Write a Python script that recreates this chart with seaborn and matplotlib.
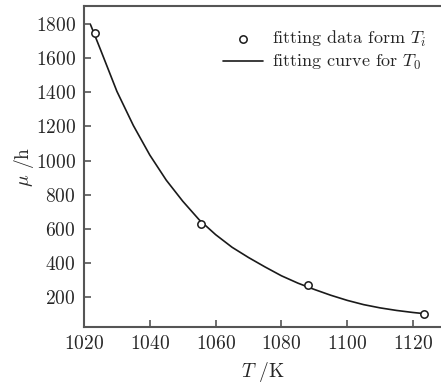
import matplotlib
matplotlib.use("Agg")
import matplotlib.pyplot as plt
import seaborn as sns
import pandas as pd

# measured points
temp_pts = [1023.3, 1055.6, 1088.0, 1123.3]
mu_pts = [1748, 628, 270, 100]

# fitted curve
temp_fit = [1022, 1025, 1030, 1035, 1040, 1045, 1050, 1055, 1060, 1065, 1070,
            1075, 1080, 1085, 1090, 1095, 1100, 1105, 1110, 1115, 1120, 1123]
mu_fit = [1795, 1650, 1405, 1205, 1032, 885, 762, 653, 566, 492, 432,
          377, 325, 282, 245, 211, 181, 156, 137, 122, 110, 104]

xticks = [1020, 1040, 1060, 1080, 1100, 1120]
yticks = [200, 400, 600, 800, 1000, 1200, 1400, 1600, 1800]

sns.set_style("ticks")
plt.rcParams["font.family"] = ["cmr10", "DejaVu Serif"]
plt.rcParams["mathtext.fontset"] = "cm"
plt.rcParams["axes.formatter.use_mathtext"] = True
plt.rcParams["axes.unicode_minus"] = False

pts = pd.DataFrame({"T": temp_pts, "mu": mu_pts})
fit = pd.DataFrame({"T": temp_fit, "mu": mu_fit})

fig = plt.figure(figsize=(4.41, 3.83), dpi=100)
ax = fig.add_axes([0.1905, 0.1462, 0.8095, 0.8381])

sns.lineplot(data=fit, x="T", y="mu", ax=ax, color="#1a1a1a", linewidth=1.2,
             label=r"fitting curve for $T_0$", zorder=2)
sns.scatterplot(data=pts, x="T", y="mu", ax=ax, marker="o", s=28,
                facecolor="white", edgecolor="#1a1a1a", linewidth=1.1,
                label=r"fitting data form $T_i$", zorder=3)

ax.set_xlim(1020, 1128.5)
ax.set_ylim(25, 1905)
ax.set_xticks(xticks)
ax.set_yticks(yticks)
ax.tick_params(direction="in", length=5, width=1.2, color="#555555",
               labelsize=14, pad=6)
for side in ["left", "bottom", "top"]:
    ax.spines[side].set_color("#555555")
    ax.spines[side].set_linewidth(1.5)
ax.spines["right"].set_visible(False)

ax.set_xlabel(r"$T$ /K", fontsize=14, labelpad=5)
ax.set_ylabel(r"$\mu$ /h", fontsize=14, labelpad=0)

handles, labels = ax.get_legend_handles_labels()
ax.legend(handles[::-1], labels[::-1], loc="upper right", frameon=False,
          bbox_to_anchor=(1.0, 0.975), fontsize=13, handlelength=2.2,
          handletextpad=0.5, borderaxespad=0.5, labelspacing=0.25,
          borderpad=0.3)

fig.savefig("out.png", dpi=100)
plt.close(fig)
